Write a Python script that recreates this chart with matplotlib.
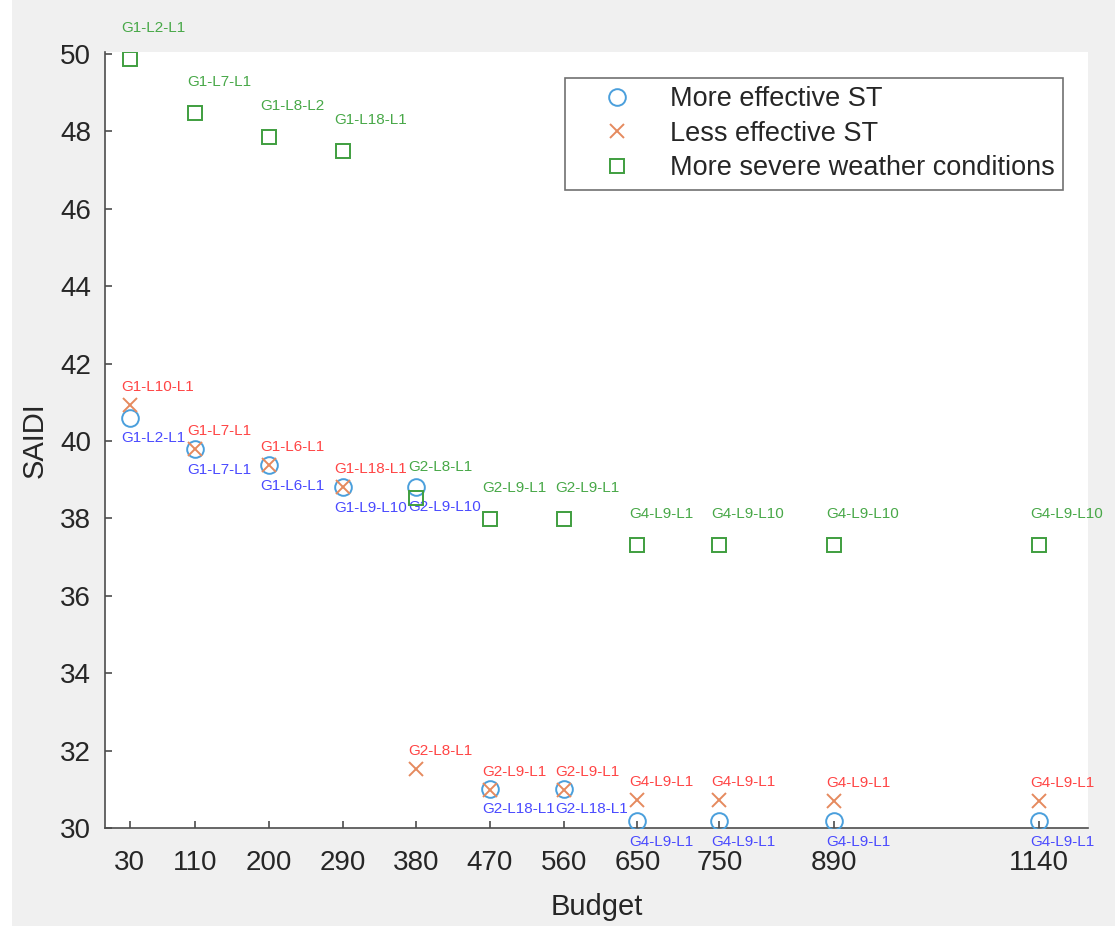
import matplotlib
matplotlib.use("Agg")
import matplotlib.pyplot as plt
from matplotlib.patches import Rectangle

plt.rcParams['font.family'] = ['Liberation Sans', 'DejaVu Sans']

budget = [30, 110, 200, 290, 380, 470, 560, 650, 750, 890, 1140]
saidi_more = [40.60, 39.78, 39.37, 38.80, 38.82, 31.01, 31.01, 30.18, 30.18, 30.18, 30.18]
saidi_less = [40.92, 39.78, 39.37, 38.80, 31.53, 30.98, 30.98, 30.72, 30.72, 30.70, 30.70]
saidi_severe = [49.87, 48.47, 47.85, 47.50, 38.52, 37.98, 37.98, 37.31, 37.31, 37.31, 37.31]

labels_more = ['G1-L2-L1', 'G1-L7-L1', 'G1-L6-L1', 'G1-L9-L10', 'G2-L9-L10', 'G2-L18-L1',
               'G2-L18-L1', 'G4-L9-L1', 'G4-L9-L1', 'G4-L9-L1', 'G4-L9-L1']
labels_less = ['G1-L10-L1', 'G1-L7-L1', 'G1-L6-L1', 'G1-L18-L1', 'G2-L8-L1', 'G2-L9-L1',
               'G2-L9-L1', 'G4-L9-L1', 'G4-L9-L1', 'G4-L9-L1', 'G4-L9-L1']
labels_severe = ['G1-L2-L1', 'G1-L7-L1', 'G1-L8-L2', 'G1-L18-L1', 'G2-L8-L1', 'G2-L9-L1',
                 'G2-L9-L1', 'G4-L9-L1', 'G4-L9-L10', 'G4-L9-L10', 'G4-L9-L10']

series_names = ['More effective ST', 'Less effective ST', 'More severe weather conditions']
yticks = list(range(30, 51, 2))

BG = '#f0f0f0'
fig = plt.figure(figsize=(11.15, 9.26), dpi=100, facecolor=BG)
fig.patches.append(Rectangle((0, 0), 12 / 1115, 1, transform=fig.transFigure,
                             facecolor='white', edgecolor='none', zorder=-10))
ax = fig.add_axes([105 / 1115, 1 - 828 / 926, (1088 - 105) / 1115, (828 - 52) / 926])
ax.set_facecolor('white')

c_blue = '#4a9fdc'
c_orange = '#e58a5e'
c_green = '#3f9e3f'

ax.plot(budget, saidi_more, 'o', ls='none', ms=12, mfc='none', mec=c_blue, mew=1.4,
        label=series_names[0], zorder=3)
ax.plot(budget, saidi_less, 'x', ls='none', ms=10, mec=c_orange, mew=1.4,
        label=series_names[1], zorder=4)
ax.plot(budget, saidi_severe, 's', ls='none', ms=10, mfc='none', mec=c_green, mew=1.4,
        label=series_names[2], zorder=5)

t_blue = '#4a4aff'
t_red = '#ff4545'
t_green = '#48a848'
fs_lab = 11
for x, y, s in zip(budget, saidi_more, labels_more):
    ax.text(x - 10, y - 0.53, s, color=t_blue, fontsize=fs_lab, ha='left', va='center')
for x, y, s in zip(budget, saidi_less, labels_less):
    ax.text(x - 10, y + 0.47, s, color=t_red, fontsize=fs_lab, ha='left', va='center')
for x, y, s in zip(budget, saidi_severe, labels_severe):
    ax.text(x - 10, y + 0.8, s, color=t_green, fontsize=fs_lab, ha='left', va='center')

ax.set_xlim(0, 1200)
ax.set_ylim(30, 50.05)
ax.set_xticks(budget)
ax.set_xticklabels([str(b) for b in budget])
ax.set_yticks(yticks)

for side in ['top', 'right']:
    ax.spines[side].set_visible(False)
for side in ['left', 'bottom']:
    ax.spines[side].set_color('#4d4d4d')
    ax.spines[side].set_linewidth(1.2)
ax.tick_params(direction='in', length=5, width=1.2, color='#4d4d4d',
               labelcolor='#262626', labelsize=20)
ax.tick_params(axis='x', pad=16)
ax.tick_params(axis='y', pad=10)

ax.set_xlabel('Budget', fontsize=21, color='#262626', labelpad=12)
ax.set_ylabel('SAIDI', fontsize=21, color='#262626', labelpad=8)

leg = ax.legend(loc='upper right', bbox_to_anchor=(958 / 983, 1 - 26 / 776),
                fontsize=19.5, frameon=True, fancybox=False, edgecolor='#4d4d4d',
                handletextpad=0.3, borderpad=0.3, labelspacing=0.32,
                handlelength=3.3, borderaxespad=0)
leg.get_frame().set_linewidth(1.2)
for t in leg.get_texts():
    t.set_color('#262626')

fig.savefig('out.png', dpi=100, facecolor=BG)
